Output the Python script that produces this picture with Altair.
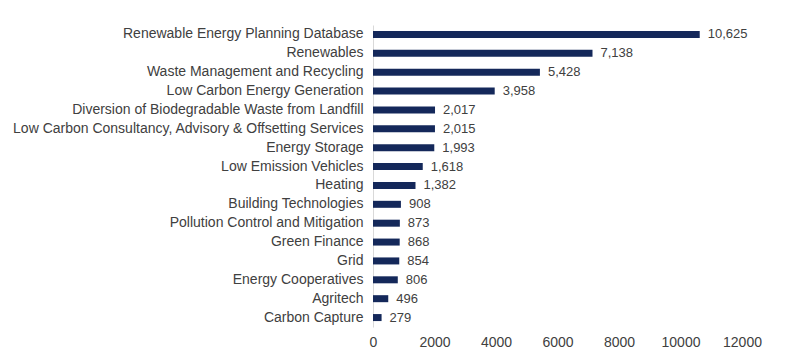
import altair as alt
import pandas as pd

categories = [
    "Renewable Energy Planning Database",
    "Renewables",
    "Waste Management and Recycling",
    "Low Carbon Energy Generation",
    "Diversion of Biodegradable Waste from Landfill",
    "Low Carbon Consultancy, Advisory & Offsetting Services",
    "Energy Storage",
    "Low Emission Vehicles",
    "Heating",
    "Building Technologies",
    "Pollution Control and Mitigation",
    "Green Finance",
    "Grid",
    "Energy Cooperatives",
    "Agritech",
    "Carbon Capture",
]
values = [10625, 7138, 5428, 3958, 2017, 2015, 1993, 1618, 1382, 908, 873, 868, 854, 806, 496, 279]
x_ticks = [0, 2000, 4000, 6000, 8000, 10000, 12000]

df = pd.DataFrame({"category": categories, "value": values})

FONT = "Liberation Sans"
TEXT = "#404040"

base = alt.Chart(df)

y_enc = alt.Y(
    "category:N",
    sort=categories,
    title=None,
    scale=alt.Scale(paddingInner=0.6, paddingOuter=0.3),
    axis=alt.Axis(
        labelFont=FONT,
        labelFontSize=14,
        labelColor=TEXT,
        labelPadding=10,
        ticks=False,
        domain=True,
        domainColor="#d9d9d9",
        labelLimit=400,
    ),
)

bars = base.mark_bar(color="#14285A", size=7).encode(
    x=alt.X(
        "value:Q",
        title=None,
        scale=alt.Scale(domain=[0, 12000], nice=False),
        axis=alt.Axis(
            values=x_ticks,
            format="d",
            labelFont=FONT,
            labelFontSize=14,
            labelColor=TEXT,
            labelFlush=False,
            labelOverlap=False,
            grid=False,
            ticks=False,
            domain=False,
            labelPadding=8,
        ),
    ),
    y=y_enc,
)

labels = base.mark_text(
    align="left", baseline="middle", dx=8, font=FONT, fontSize=13, color=TEXT
).encode(
    x="value:Q",
    y=alt.Y("category:N", sort=categories),
    text=alt.Text("value:Q", format=","),
)

chart = (
    alt.layer(bars, labels)
    .properties(
        width=369,
        height=302,
        autosize=alt.AutoSizeParams(type="none"),
        padding={"left": 365, "top": 17, "right": 40, "bottom": 30},
        background="white",
    )
    .configure_view(stroke=None)
)

chart.save("out.html", embed_options={"renderer": "svg", "actions": False})
